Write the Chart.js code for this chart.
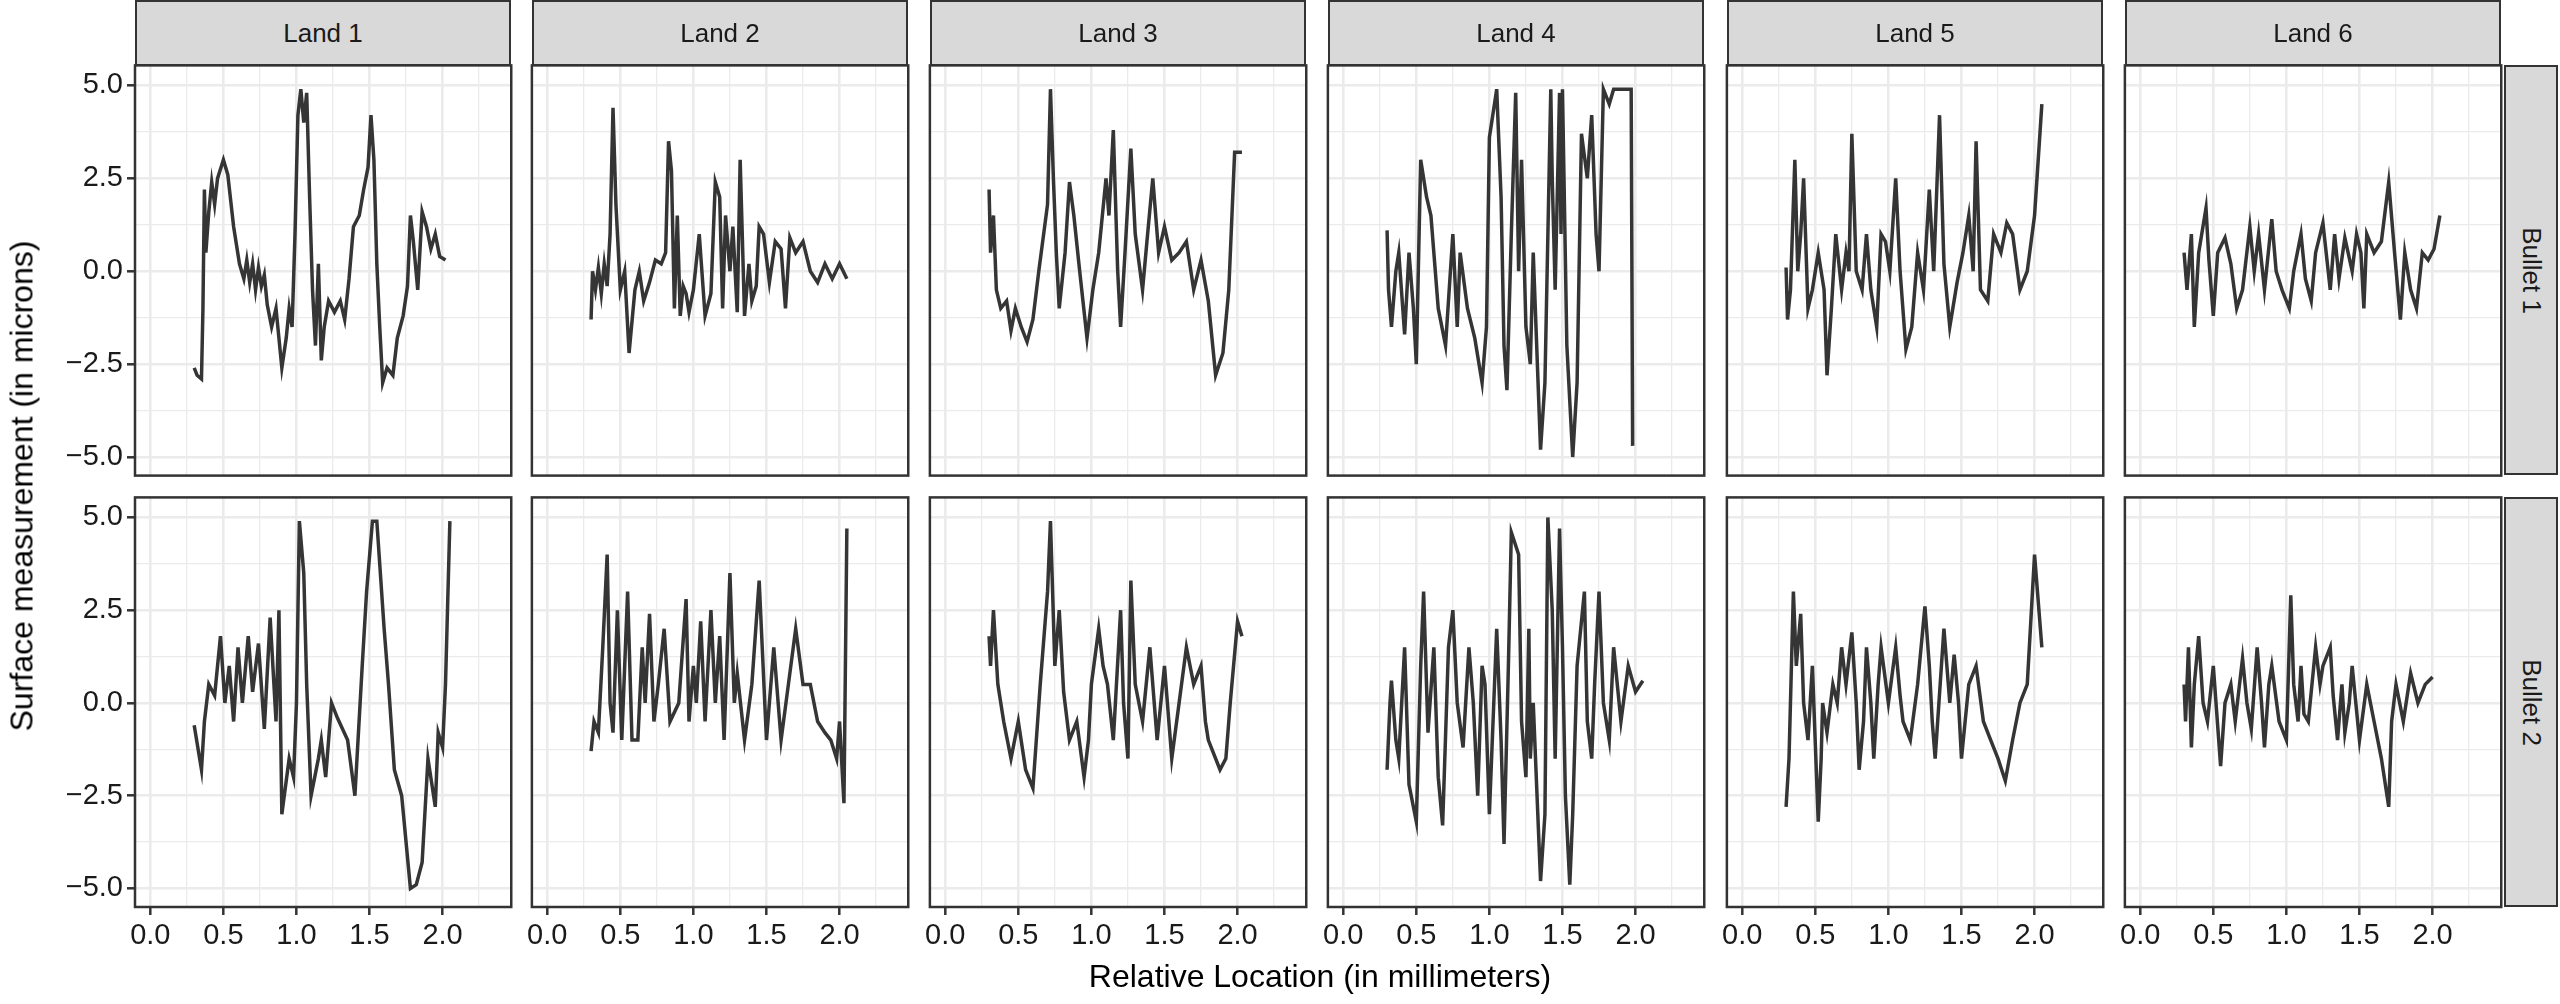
<!DOCTYPE html>
<html><head><meta charset="utf-8">
<script src="https://cdn.jsdelivr.net/npm/chart.js@4/dist/chart.umd.min.js"></script>
<style>
body{margin:0;width:2560px;height:1004px;background:#fff;position:relative;font-family:"Liberation Sans",Arial,sans-serif;overflow:hidden}
.c{position:absolute}
.strip{position:absolute;background:#d9d9d9;border:2px solid #333;box-sizing:border-box;color:#1a1a1a;font-size:26px;display:flex;align-items:center;justify-content:center}
.rs span{transform:rotate(90deg);white-space:nowrap}
.t{position:absolute;font-size:32px;color:#000;white-space:nowrap}
</style></head><body>
<script>
const lands = ["Land 1","Land 2","Land 3","Land 4","Land 5","Land 6"];
const bullets = ["Bullet 1","Bullet 2"];
const xTicks = [0,0.5,1,1.5,2];
const yTicks = [-5,-2.5,0,2.5,5];

const L1B1x=[0.30,0.32,0.35,0.36,0.37,0.38,0.40,0.42,0.44,0.46,0.50,0.53,0.57,0.61,0.64,0.66,0.68,0.70,0.72,0.74,0.76,0.78,0.80,0.83,0.86,0.90,0.93,0.95,0.97,0.99,1.01,1.03,1.05,1.07,1.09,1.11,1.13,1.15,1.17,1.19,1.22,1.26,1.30,1.33,1.36,1.39,1.43,1.46,1.49,1.51,1.53,1.55,1.57,1.59,1.62,1.66,1.69,1.73,1.76,1.78,1.80,1.83,1.86,1.89,1.92,1.95,1.98,2.02];
const L1B1y=[-2.6,-2.8,-2.9,-1,2.2,0.5,1.6,2.4,1.8,2.5,3.0,2.6,1.2,0.2,-0.2,0.3,-0.3,0.2,-0.5,0.1,-0.4,-0.1,-0.9,-1.5,-1.0,-2.6,-1.8,-1.0,-1.5,1.0,4.2,4.9,4.0,4.8,2.0,-0.5,-2.0,0.2,-2.4,-1.5,-0.8,-1.1,-0.8,-1.3,-0.2,1.2,1.5,2.2,2.8,4.2,3.0,0.2,-1.5,-3.0,-2.6,-2.8,-1.8,-1.2,-0.4,1.5,0.8,-0.5,1.6,1.2,0.6,1.0,0.4,0.3];
const L2B1x=[0.30,0.31,0.33,0.35,0.37,0.39,0.41,0.43,0.45,0.47,0.50,0.53,0.56,0.60,0.63,0.66,0.70,0.74,0.78,0.81,0.83,0.85,0.87,0.89,0.91,0.93,0.95,0.97,1.00,1.04,1.08,1.12,1.15,1.18,1.20,1.22,1.25,1.27,1.30,1.32,1.35,1.38,1.40,1.43,1.45,1.48,1.52,1.56,1.60,1.63,1.66,1.70,1.75,1.80,1.85,1.90,1.95,2.00,2.05];
const L2B1y=[-1.3,0.0,-0.5,0.1,-0.6,0.2,-0.4,1.0,4.4,1.8,-0.5,0.0,-2.2,-0.5,0.0,-0.8,-0.3,0.3,0.2,0.5,3.5,2.7,-1.0,1.5,-1.2,-0.4,-0.6,-1.1,-0.5,1.0,-1.2,-0.6,2.4,2.0,-1.0,1.5,0.0,1.2,-1.1,3.0,-1.2,0.2,-0.8,-0.4,1.2,1.0,-0.3,0.8,0.6,-1.0,0.9,0.5,0.8,0.0,-0.3,0.2,-0.2,0.2,-0.2];
const L3B1x=[0.30,0.31,0.33,0.35,0.38,0.42,0.45,0.48,0.52,0.56,0.60,0.64,0.68,0.70,0.72,0.74,0.76,0.78,0.82,0.85,0.88,0.92,0.97,1.01,1.05,1.10,1.12,1.15,1.18,1.20,1.23,1.27,1.30,1.35,1.38,1.42,1.46,1.50,1.55,1.60,1.65,1.70,1.75,1.80,1.85,1.90,1.94,1.98,2.03];
const L3B1y=[2.2,0.5,1.5,-0.5,-1.0,-0.8,-1.6,-1.0,-1.5,-1.9,-1.3,0.0,1.2,1.8,4.9,2.5,0.5,-1.0,0.5,2.4,1.5,0.0,-1.8,-0.5,0.5,2.5,1.5,3.8,0.0,-1.5,0.5,3.3,1.0,-0.5,0.8,2.5,0.5,1.2,0.3,0.5,0.8,-0.5,0.3,-0.8,-2.8,-2.2,-0.5,3.2,3.2];
const L4B1x=[0.30,0.31,0.33,0.36,0.38,0.42,0.45,0.48,0.50,0.53,0.57,0.60,0.65,0.70,0.75,0.78,0.80,0.85,0.90,0.95,0.98,1.00,1.05,1.08,1.10,1.12,1.15,1.18,1.20,1.22,1.25,1.28,1.30,1.35,1.38,1.42,1.43,1.45,1.48,1.49,1.50,1.53,1.57,1.60,1.63,1.67,1.70,1.73,1.75,1.78,1.82,1.85,1.90,1.93,1.97,1.98];
const L4B1y=[1.1,-0.5,-1.5,0.0,0.5,-1.7,0.5,-1.0,-2.5,3.0,2.0,1.5,-1.0,-2.0,1.0,-1.5,0.5,-1.0,-1.8,-3.0,-1.5,3.6,4.9,2.0,-2.0,-3.2,1.0,4.8,0.0,3.0,-1.5,-2.5,0.5,-4.8,-3.0,4.9,2.5,-0.5,4.8,1.0,4.9,-2.0,-5.0,-3.0,3.7,2.5,4.2,1.0,0.0,4.9,4.5,4.9,4.9,4.9,4.9,-4.7];
const L5B1x=[0.30,0.31,0.33,0.36,0.38,0.40,0.42,0.45,0.48,0.52,0.56,0.58,0.61,0.64,0.68,0.71,0.73,0.75,0.78,0.82,0.85,0.88,0.92,0.95,0.98,1.01,1.05,1.08,1.12,1.16,1.20,1.24,1.28,1.31,1.35,1.38,1.42,1.47,1.51,1.55,1.58,1.60,1.63,1.68,1.72,1.77,1.81,1.85,1.90,1.95,2.00,2.05];
const L5B1y=[0.1,-1.3,-0.5,3.0,0.0,1.0,2.5,-1.0,-0.5,0.5,-0.5,-2.8,-1.0,1.0,-0.5,0.5,0.0,3.7,0.0,-0.5,1.0,-0.5,-1.5,1.0,0.8,0.0,2.5,0.0,-2.1,-1.5,0.5,-0.5,2.2,0.0,4.2,0.2,-1.5,-0.3,0.5,1.5,0.0,3.5,-0.5,-0.8,1.0,0.5,1.3,1.0,-0.5,0.0,1.5,4.5];
const L6B1x=[0.30,0.32,0.35,0.37,0.40,0.45,0.47,0.50,0.53,0.58,0.62,0.66,0.70,0.75,0.78,0.81,0.85,0.90,0.93,0.97,1.02,1.05,1.10,1.13,1.17,1.20,1.25,1.30,1.33,1.36,1.40,1.45,1.48,1.51,1.53,1.55,1.60,1.65,1.70,1.74,1.78,1.81,1.85,1.89,1.93,1.97,2.01,2.05];
const L6B1y=[0.5,-0.5,1.0,-1.5,0.5,1.7,0.3,-1.2,0.5,0.9,0.2,-1.0,-0.5,1.2,0.0,1.0,-0.5,1.4,0.0,-0.5,-1.0,0.0,1.0,-0.2,-0.8,0.5,1.3,-0.5,1.0,-0.2,0.9,0.0,1.0,0.5,-1.0,1.0,0.5,0.8,2.4,0.5,-1.3,0.5,-0.5,-1.0,0.5,0.3,0.6,1.5];

const L1B2x=[0.30,0.35,0.37,0.40,0.44,0.48,0.51,0.54,0.57,0.60,0.63,0.67,0.70,0.74,0.78,0.82,0.86,0.88,0.90,0.95,0.98,1.00,1.02,1.05,1.07,1.10,1.15,1.17,1.20,1.24,1.28,1.35,1.40,1.45,1.48,1.52,1.55,1.60,1.63,1.67,1.72,1.78,1.82,1.86,1.90,1.95,1.97,2.00,2.02,2.05];
const L1B2y=[-0.6,-1.8,-0.5,0.5,0.2,1.8,0.0,1.0,-0.5,1.5,0.0,1.8,0.3,1.6,-0.7,2.3,-0.5,2.5,-3.0,-1.5,-2.0,0.0,4.9,3.5,0.5,-2.5,-1.5,-1.0,-2.0,0.0,-0.4,-1.0,-2.5,1.0,3.0,4.9,4.9,2.0,0.5,-1.8,-2.5,-5.0,-4.9,-4.3,-1.5,-2.8,-0.8,-1.2,0.5,4.9];
const L2B2x=[0.30,0.32,0.35,0.38,0.41,0.43,0.45,0.48,0.51,0.55,0.58,0.62,0.65,0.67,0.70,0.73,0.76,0.80,0.84,0.90,0.95,0.97,1.00,1.02,1.05,1.08,1.12,1.15,1.18,1.21,1.25,1.28,1.30,1.35,1.40,1.45,1.50,1.52,1.55,1.60,1.65,1.70,1.75,1.80,1.85,1.90,1.94,1.98,2.00,2.03,2.05];
const L2B2y=[-1.3,-0.5,-0.8,1.5,4.0,0.0,-0.8,2.5,-1.0,3.0,-1.0,-1.0,1.5,0.0,2.4,-0.5,0.5,2.0,-0.5,0.0,2.8,-0.5,1.0,0.0,2.2,-0.5,2.5,0.0,1.8,-1.0,3.5,0.0,0.8,-1.0,0.5,3.3,-1.0,0.0,1.5,-1.0,0.5,2.0,0.5,0.5,-0.5,-0.8,-1.0,-1.5,-0.5,-2.7,4.7];
const L3B2x=[0.30,0.31,0.33,0.36,0.40,0.45,0.50,0.55,0.60,0.65,0.70,0.72,0.75,0.78,0.81,0.85,0.90,0.95,0.98,1.00,1.05,1.08,1.11,1.15,1.20,1.22,1.25,1.27,1.30,1.35,1.40,1.45,1.50,1.55,1.60,1.65,1.70,1.75,1.78,1.80,1.88,1.92,1.95,2.00,2.03];
const L3B2y=[1.8,1.0,2.5,0.5,-0.5,-1.5,-0.5,-1.8,-2.3,0.5,3.0,4.9,1.0,2.5,0.3,-1.0,-0.5,-2.0,-1.0,0.5,2.0,1.0,0.5,-1.0,2.5,0.0,-1.5,3.3,0.5,-0.5,1.5,-1.0,1.0,-1.5,0.0,1.5,0.5,1.0,-0.5,-1.0,-1.8,-1.5,0.0,2.2,1.8];
const L4B2x=[0.30,0.32,0.33,0.36,0.38,0.42,0.45,0.50,0.53,0.55,0.58,0.62,0.65,0.68,0.72,0.75,0.78,0.82,0.86,0.89,0.92,0.95,0.97,1.00,1.05,1.08,1.10,1.13,1.15,1.20,1.22,1.25,1.27,1.28,1.30,1.35,1.38,1.40,1.43,1.45,1.48,1.50,1.52,1.55,1.57,1.60,1.65,1.67,1.70,1.72,1.75,1.78,1.82,1.85,1.90,1.95,2.00,2.05];
const L4B2y=[-1.8,0.0,0.6,-1.0,-1.5,1.5,-2.2,-3.2,1.0,3.0,-0.8,1.5,-2.0,-3.3,1.5,2.5,0.0,-1.2,1.5,0.0,-2.5,1.0,0.5,-3.0,2.0,-1.0,-3.8,1.0,4.6,4.0,-0.5,-2.0,2.0,-1.5,0.0,-4.8,-3.0,5.0,2.5,-1.5,4.7,1.5,-2.5,-4.9,-3.0,1.0,3.0,-0.5,-1.5,0.5,3.0,0.0,-1.0,1.5,-0.5,1.0,0.3,0.6];
const L5B2x=[0.30,0.32,0.35,0.37,0.40,0.42,0.45,0.48,0.52,0.54,0.55,0.58,0.62,0.65,0.68,0.71,0.75,0.78,0.80,0.83,0.85,0.88,0.90,0.93,0.95,1.00,1.05,1.08,1.10,1.15,1.20,1.25,1.28,1.30,1.32,1.38,1.42,1.45,1.48,1.50,1.55,1.60,1.65,1.70,1.75,1.80,1.85,1.90,1.95,2.00,2.05];
const L5B2y=[-2.8,-1.5,3.0,1.0,2.4,0.0,-1.0,1.0,-3.2,-1.5,0.0,-0.8,0.5,0.0,1.5,0.5,1.9,0.0,-1.8,-0.5,1.5,0.0,-1.5,0.5,1.5,0.0,1.5,0.2,-0.5,-1.0,0.5,2.6,1.0,-0.5,-1.5,2.0,0.0,1.3,0.0,-1.5,0.5,1.0,-0.5,-1.0,-1.5,-2.1,-1.0,0.0,0.5,4.0,1.5];
const L6B2x=[0.30,0.31,0.33,0.35,0.37,0.40,0.43,0.46,0.50,0.55,0.58,0.62,0.65,0.70,0.73,0.76,0.80,0.83,0.85,0.88,0.90,0.95,1.00,1.03,1.05,1.08,1.10,1.12,1.15,1.20,1.23,1.25,1.30,1.32,1.35,1.38,1.40,1.43,1.45,1.50,1.55,1.60,1.65,1.70,1.72,1.75,1.80,1.85,1.90,1.95,2.00];
const L6B2y=[0.5,-0.5,1.5,-1.2,0.5,1.8,0.0,-0.5,1.0,-1.7,0.0,0.5,-0.5,1.2,0.0,-0.7,1.5,0.0,-1.2,0.5,1.0,-0.5,-1.0,2.9,0.5,-0.5,1.0,-0.3,-0.5,1.5,0.5,1.0,1.5,0.2,-1.0,0.5,-0.8,0.0,1.0,-1.0,0.5,-0.5,-1.5,-2.8,-0.5,0.5,-0.5,0.8,0.0,0.5,0.7];

const series = [
  [[L1B1x,L1B1y],[L2B1x,L2B1y],[L3B1x,L3B1y],[L4B1x,L4B1y],[L5B1x,L5B1y],[L6B1x,L6B1y]],
  [[L1B2x,L1B2y],[L2B2x,L2B2y],[L3B2x,L3B2y],[L4B2x,L4B2y],[L5B2x,L5B2y],[L6B2x,L6B2y]]
];

const colLeft=[135,532,930,1328,1727,2125], pw=376;
const rowTop=[65,497], ph=410;
const xMin=-0.105,xMax=2.47,yMin=-5.5,yMax=5.54;
const tickFont={size:29,family:'"Liberation Sans Narrow","Liberation Sans",Arial'};

const frame={id:'frame',afterDatasetsDraw(c){const a=c.chartArea,x=c.ctx;x.save();x.strokeStyle='#333';x.lineWidth=2.5;x.strokeRect(a.left,a.top,a.right-a.left,a.bottom-a.top);x.restore();}};
function add(html){document.body.insertAdjacentHTML('beforeend',html);}
const isMaj=(arr,v)=>arr.some(t=>Math.abs(t-v)<1e-6);
const fmt=v=>(v<0?'\u2212':'')+Math.abs(v).toFixed(1);

for(let r=0;r<2;r++){
  for(let c=0;c<6;c++){
    const leftPad = c===0?135:0, botPad = r===1?55:0;
    let W=pw+leftPad+40,H=ph+botPad+40;
    const cv=document.createElement('canvas');cv.className='c';
    cv.width=W;cv.height=H;cv.style.width=W+'px';cv.style.height=H+'px';
    document.body.appendChild(cv);
    const [xs,ys]=series[r][c];
    const ch=new Chart(cv,{type:'line',data:{datasets:[{data:xs.map((x,i)=>({x:x,y:ys[i]})),borderColor:'#353535',borderWidth:3.5,pointRadius:0,tension:0}]},
      plugins:[frame],
      options:{responsive:false,maintainAspectRatio:false,animation:false,devicePixelRatio:1,layout:{padding:0},
        plugins:{legend:{display:false},tooltip:{enabled:false}},
        scales:{
          x:{type:'linear',min:xMin,max:xMax,
            afterFit(s){s.height=botPad;},
            ticks:{display:true,stepSize:0.25,includeBounds:false,autoSkip:false,maxRotation:0,color:r===1?'#1a1a1a':'rgba(0,0,0,0)',font:tickFont,padding:4,
              callback:v=>isMaj(xTicks,v)?fmt(v):''},
            grid:{color:'#ebebeb',lineWidth:ctx=>(ctx.tick&&isMaj(xTicks,ctx.tick.value))?2.6:1.3,
              drawTicks:r===1,tickLength:8,tickWidth:2.5,tickColor:ctx=>(ctx.tick&&isMaj(xTicks,ctx.tick.value))?'#333':'rgba(0,0,0,0)'},
            border:{display:false}},
          y:{type:'linear',min:yMin,max:yMax,
            afterFit(s){s.width=leftPad;},
            ticks:{display:true,stepSize:1.25,includeBounds:false,autoSkip:false,color:c===0?'#1a1a1a':'rgba(0,0,0,0)',font:tickFont,padding:4,
              callback:v=>isMaj(yTicks,v)?fmt(v):''},
            grid:{color:'#ebebeb',lineWidth:ctx=>(ctx.tick&&isMaj(yTicks,ctx.tick.value))?2.6:1.3,
              drawTicks:c===0,tickLength:8,tickWidth:2.5,tickColor:ctx=>(ctx.tick&&isMaj(yTicks,ctx.tick.value))?'#333':'rgba(0,0,0,0)'},
            border:{display:false}}
        }}});
    for(let k=0;k<3;k++){
      const a=ch.chartArea;
      W=Math.round(W+(pw-(a.right-a.left)));
      H=Math.round(H+(ph-(a.bottom-a.top)));
      ch.resize(W,H);
    }
    const a=ch.chartArea;
    cv.style.left=(colLeft[c]-a.left)+'px';
    cv.style.top=(rowTop[r]-a.top)+'px';
  }
}
lands.forEach((n,c)=>add(`<div class="strip" style="left:${colLeft[c]}px;top:0;width:${pw}px;height:66px">${n}</div>`));
bullets.forEach((n,r)=>add(`<div class="strip rs" style="left:2504px;top:${rowTop[r]}px;width:54px;height:${ph}px"><span>${n}</span></div>`));
add(`<div class="t" style="left:1320px;top:958px;transform:translateX(-50%)">Relative Location (in millimeters)</div>`);
add(`<div class="t" style="left:22px;top:486px;transform:translate(-50%,-50%) rotate(-90deg)">Surface measurement (in microns)</div>`);
</script>
</body></html>
